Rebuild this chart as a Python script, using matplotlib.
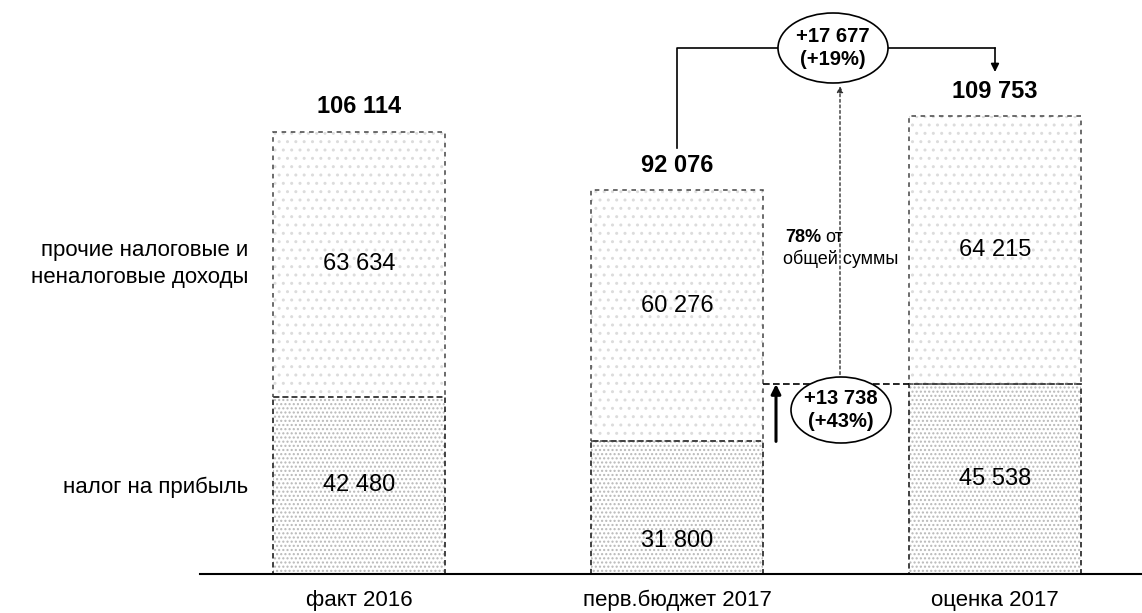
import matplotlib
matplotlib.use("Agg")
import matplotlib.pyplot as plt
from matplotlib.patches import Ellipse

categories = ["факт 2016", "перв.бюджет 2017", "оценка 2017"]
profit_tax = [42480, 31800, 45538]
other_income = [63634, 60276, 64215]
totals = [106114, 92076, 109753]
profit_labels = ["42 480", "31 800", "45 538"]
other_labels = ["63 634", "60 276", "64 215"]
total_labels = ["106 114", "92 076", "109 753"]
series_names = ["налог на прибыль", "прочие налоговые и\nненалоговые доходы"]
delta_total = "+17 677\n(+19%)"
delta_profit = "+13 738\n(+43%)"

plt.rcParams['font.family'] = ['Liberation Sans', 'DejaVu Sans']

fig = plt.figure(figsize=(11.42, 6.13), dpi=100)
ax = fig.add_axes([0, 0, 1, 1])
ax.set_xlim(-359/318, (1142-359)/318)
ax.set_ylim(-39/4.17*1000, 574/4.17*1000)
ax.axis('off')

x = list(range(len(categories)))
w = 0.54
# textured fills
ax.bar(x, profit_tax, w, color='white', hatch='....', edgecolor='#b8b8b8', linewidth=0)
ax.bar(x, other_income, w, bottom=profit_tax, color='white', hatch='..', edgecolor='#dcdcdc', linewidth=0)
# dashed outlines
ax.bar(x, profit_tax, w, fill=False, edgecolor='#333333', linestyle=(0, (3, 2)), linewidth=1.3)
ax.bar(x, other_income, w, bottom=profit_tax, fill=False, edgecolor='#444444', linestyle=(0, (3, 3)), linewidth=1.1)

# baseline axis
ax.plot([-0.5, 2.5], [0, 0], color='black', lw=1.5, clip_on=False)

# labels
low_pos = [0.5, 0.25, 0.5]
up_pos = [0.5, 0.54, 0.5]
for i in x:
    ax.text(i, profit_tax[i]*low_pos[i], profit_labels[i], ha='center', va='center', fontsize=17)
    ax.text(i, profit_tax[i] + other_income[i]*up_pos[i], other_labels[i], ha='center', va='center', fontsize=17)
    ax.text(i, totals[i] + 6000, total_labels[i], ha='center', va='center', fontsize=17, fontweight='bold')
    ax.text(i, -6300, categories[i], ha='center', va='center', fontsize=16)

ax.text((248-359)/318, profit_tax[0]*0.49, series_names[0], ha='right', va='center', fontsize=16)
ax.text((248-359)/318, profit_tax[0] + other_income[0]*0.5, series_names[1], ha='right', va='center',
        fontsize=16, linespacing=1.36)

def px(v):
    return (v - 359) / 318

def py(v):
    return (574 - v) / 4.17 * 1000

# top bracket from bar 2 to bar 3
yb = py(48)
ax.plot([1, 1, px(780)], [py(148), yb, yb], color='black', lw=1.2)
ax.plot([px(886), 2], [yb, yb], color='black', lw=1.2)
ax.annotate('', xy=(2, py(72)), xytext=(2, yb),
            arrowprops=dict(arrowstyle='-|>', color='black', lw=1.2, mutation_scale=12,
                            shrinkA=0, shrinkB=0))
e1 = Ellipse((px(833), yb), 110/318, 70/4.17*1000, facecolor='white', edgecolor='black', lw=1.2, zorder=3)
ax.add_patch(e1)
ax.text(px(833), yb, delta_total, ha='center', va='center', fontsize=14.5, fontweight='bold', zorder=4,
        linespacing=1.3)

# dotted vertical line upward
ax.annotate('', xy=(px(840), py(86)), xytext=(px(840), py(380)),
            arrowprops=dict(arrowstyle='-|>', color='#333333', lw=1.0, linestyle=(0, (2, 2)),
                            mutation_scale=9, shrinkA=0, shrinkB=0))

# 78% text
ax.text(px(785), py(238), "78%", ha='left', va='center', fontsize=13, fontweight='bold')
ax.text(px(825), py(238), "от", ha='left', va='center', fontsize=13)
ax.text(px(783), py(259), "общей суммы", ha='left', va='center', fontsize=13)

# dashed horizontal at profit level of bar 3
ax.plot([1 + w/2, 2 - w/2], [profit_tax[2], profit_tax[2]], color='black', lw=1.2, linestyle=(0, (4, 2)))
# thick arrow from bar 2 profit to bar 3 profit level
ax.annotate('', xy=(px(776), profit_tax[2]), xytext=(px(776), profit_tax[1]),
            arrowprops=dict(arrowstyle='-|>', color='black', lw=2.2, mutation_scale=14,
                            shrinkA=0, shrinkB=0))
e2 = Ellipse((px(841), py(410)), 100/318, 66/4.17*1000, facecolor='white', edgecolor='black', lw=1.2, zorder=3)
ax.add_patch(e2)
ax.text(px(841), py(410), delta_profit, ha='center', va='center', fontsize=14.5, fontweight='bold', zorder=4,
        linespacing=1.3)

fig.savefig("out.png", dpi=100)
